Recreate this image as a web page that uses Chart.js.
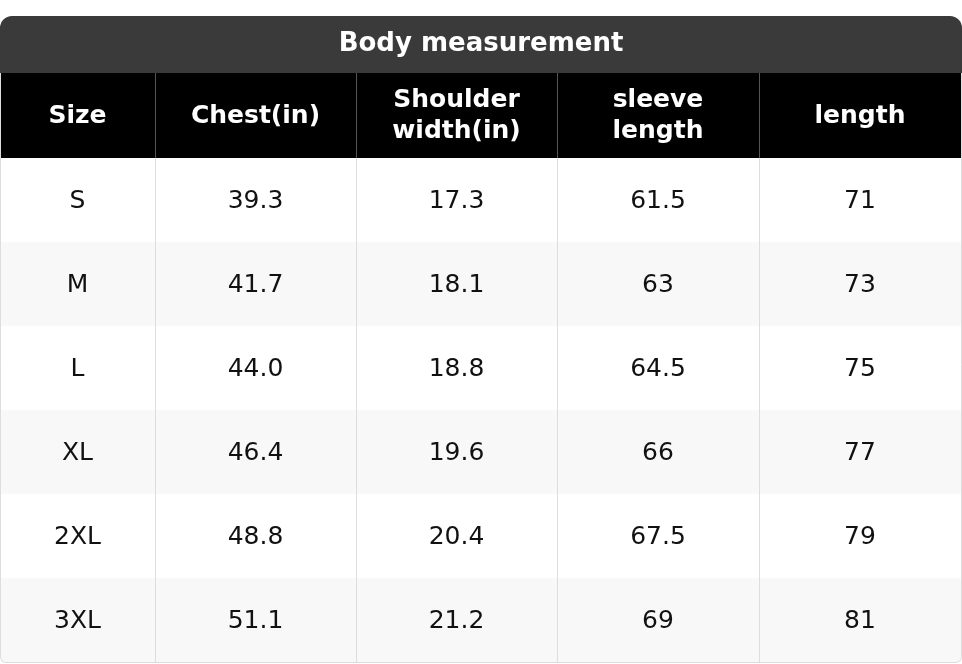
<!DOCTYPE html>
<html><head><meta charset="utf-8">
<script src="https://cdn.jsdelivr.net/npm/chart.js@4/dist/chart.umd.min.js"></script>
<style>html,body{margin:0;padding:0;background:#fff}</style>
</head><body>
<canvas id="c" width="962" height="664"></canvas>
<script>
const title = "Body measurement";
const headers = [["Size"],["Chest(in)"],["Shoulder","width(in)"],["sleeve","length"],["length"]];
const sizes = ["S","M","L","XL","2XL","3XL"];
const chest = ["39.3","41.7","44.0","46.4","48.8","51.1"];
const shoulder = ["17.3","18.1","18.8","19.6","20.4","21.2"];
const sleeve = ["61.5","63","64.5","66","67.5","69"];
const lengthV = ["71","73","75","77","79","81"];

const colEdges = [0,155,356,557,759,961];
const titleTop = 16, headTop = 73, bodyTop = 158, rowH = 84;
const font = "'DejaVu Sans', sans-serif";

const tablePlugin = {
  id: 'table',
  afterDraw(chart) {
    const ctx = chart.ctx, xs = chart.scales.x, ys = chart.scales.y;
    const X = v => xs.getPixelForValue(v), Y = v => ys.getPixelForValue(v);
    const cols = [sizes, chest, shoulder, sleeve, lengthV];
    ctx.save();
    // title bar
    ctx.fillStyle = '#3a3a3a';
    ctx.beginPath();
    ctx.roundRect(X(0), Y(titleTop), X(962)-X(0), Y(headTop)-Y(titleTop)+10, [12,12,0,0]);
    ctx.fill();
    // header
    ctx.fillStyle = '#000';
    ctx.fillRect(X(0), Y(headTop), X(962)-X(0), Y(bodyTop)-Y(headTop));
    // rows
    sizes.forEach((s,i)=>{
      const t = bodyTop + i*rowH;
      ctx.fillStyle = i%2 ? '#f8f8f8' : '#ffffff';
      ctx.fillRect(X(1), Y(t), X(961)-X(1), Y(t+rowH)-Y(t));
    });
    // vertical lines
    ctx.strokeStyle = '#555'; ctx.lineWidth = 1;
    for (let k=1;k<colEdges.length-1;k++){
      ctx.beginPath(); ctx.moveTo(X(colEdges[k])+0.5, Y(headTop)); ctx.lineTo(X(colEdges[k])+0.5, Y(bodyTop)); ctx.stroke();
    }
    ctx.strokeStyle = '#dddddd';
    for (let k=1;k<colEdges.length-1;k++){
      ctx.beginPath(); ctx.moveTo(X(colEdges[k])+0.5, Y(bodyTop)); ctx.lineTo(X(colEdges[k])+0.5, Y(bodyTop+rowH*sizes.length)); ctx.stroke();
    }
    // outer border of body
    ctx.beginPath();
    ctx.moveTo(X(0)+0.5, Y(headTop));
    ctx.lineTo(X(0)+0.5, Y(662)-6);
    ctx.quadraticCurveTo(X(0)+0.5, Y(662)+0.5, X(0)+6, Y(662)+0.5);
    ctx.lineTo(X(961)-6, Y(662)+0.5);
    ctx.quadraticCurveTo(X(961)+0.5, Y(662)+0.5, X(961)+0.5, Y(662)-6);
    ctx.lineTo(X(961)+0.5, Y(headTop));
    ctx.stroke();
    // texts
    ctx.textAlign = 'center'; ctx.textBaseline = 'middle';
    ctx.fillStyle = '#fff';
    ctx.font = "bold 26px " + font;
    ctx.fillText(title, X(481), Y((titleTop+headTop)/2));
    ctx.font = "bold 25px " + font;
    headers.forEach((h,k)=>{
      const cx = X((colEdges[k]+colEdges[k+1])/2);
      const cy = Y((headTop+bodyTop)/2);
      if (h.length===1) ctx.fillText(h[0], cx, cy+1);
      else { ctx.fillText(h[0], cx, cy-15); ctx.fillText(h[1], cx, cy+16); }
    });
    ctx.fillStyle = '#111';
    ctx.font = "25px " + font;
    cols.forEach((col,k)=>{
      const cx = X((colEdges[k]+colEdges[k+1])/2);
      col.forEach((v,i)=>{
        ctx.fillText(v, cx, Y(bodyTop + i*rowH + rowH/2)+1);
      });
    });
    ctx.restore();
  }
};

new Chart(document.getElementById('c'), {
  type: 'scatter',
  data: { datasets: [{ data: [] }] },
  options: {
    responsive: false, animation: false,
    layout: { padding: 0 },
    plugins: { legend: { display: false }, tooltip: { enabled: false } },
    scales: {
      x: { type: 'linear', min: 0, max: 962, display: false },
      y: { type: 'linear', min: 0, max: 664, reverse: true, display: false }
    }
  },
  plugins: [tablePlugin]
});
</script>
</body></html>
